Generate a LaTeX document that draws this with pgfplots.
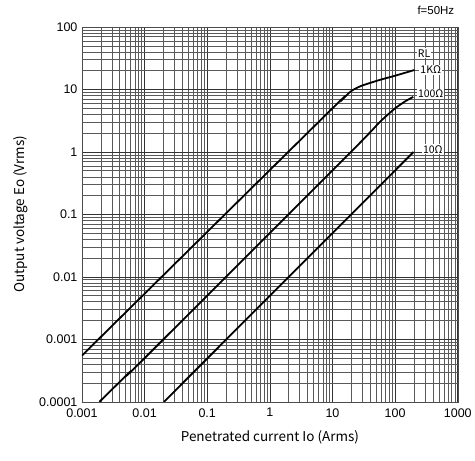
\documentclass[border=0pt]{standalone}
\usepackage{fontspec}
\setmainfont{Liberation Sans}
\newfontfamily\jp{Noto Sans CJK JP}
\usepackage{pgfplots}
\pgfplotsset{compat=1.18}

\begin{document}
\begin{tikzpicture}
\begin{loglogaxis}[
  scale only axis, width=376pt, height=375pt,
  xmin=0.001, xmax=1000, ymin=0.0001, ymax=100,
  xtick={0.001,0.01,0.1,1,10,100,1000},
  xticklabels={0.001,0.01,0.1,1,10,100,1000},
  ytick={0.0001,0.001,0.01,0.1,1,10,100},
  yticklabels={0.0001,0.001,0.01,0.1,1,10,100},
  tick label style={font=\fontsize{12.5}{14}\selectfont},
  xticklabel style={yshift=-3pt},
  yticklabel style={xshift=-1pt},
  grid=both,
  major grid style={black!80, line width=0.55pt},
  minor grid style={black!65, line width=0.5pt},
  tick style={draw=none},
  axis line style={black!70, line width=0.5pt},
  xlabel={\jp Penetrated current Io (Arms)},
  ylabel={\jp Output voltage Eo (Vrms)},
  label style={font=\jp\fontsize{13.5}{15}\selectfont},
  xlabel style={yshift=-6pt},
  ylabel style={yshift=4pt},
  clip=true,
]
% RL = 1 kOhm
\addplot[black, line width=1.8pt, smooth, tension=0.3] coordinates {
  (0.001,0.00055) (10,5.0) (14.6,7.0) (18.8,9.0) (22.6,10.2) (30,11.6)
  (56.6,14.2) (100,16.6) (204,20.5)};
% RL = 100 Ohm
\addplot[black, line width=1.8pt, smooth, tension=0.3] coordinates {
  (0.0019,0.0001) (0.006,0.00031) (0.008,0.00040) (22.6,1.15) (56.6,3.0)
  (100,5.0) (150,6.6) (195,7.6)};
% RL = 10 Ohm
\addplot[black, line width=1.8pt] coordinates {
  (0.0204,0.0001) (197,1.0)};
\node[font=\jp\fontsize{10.5}{11}\selectfont, fill=white, inner sep=1pt] at (axis cs:290,38) {RL};
\node[font=\jp\fontsize{10.5}{11}\selectfont, fill=white, inner sep=1pt] at (axis cs:370,20.5) {1KΩ};
\node[font=\jp\fontsize{10.5}{11}\selectfont, fill=white, inner sep=1pt] at (axis cs:370,8.6) {100Ω};
\node[font=\jp\fontsize{10.5}{11}\selectfont, fill=white, inner sep=1pt] at (axis cs:400,1.1) {10Ω};
\end{loglogaxis}
\node[anchor=base east, font=\fontsize{11.5}{12}\selectfont] at ([xshift=0pt,yshift=12pt]current axis.north east) {f=50Hz};
\path (current axis.south west) ++(-82pt,-59pt) coordinate (bl);
\path (current axis.north east) ++(17pt,27pt) coordinate (tr);
\useasboundingbox (bl) rectangle (tr);
\end{tikzpicture}
\end{document}
